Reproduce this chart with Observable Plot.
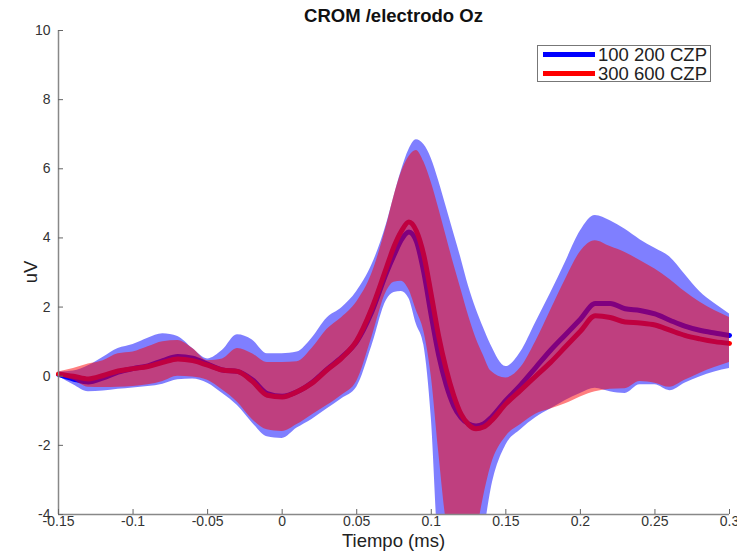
<!DOCTYPE html>
<html><head><meta charset="utf-8">
<script src="https://cdn.jsdelivr.net/npm/d3@7"></script>
<script src="https://cdn.jsdelivr.net/npm/@observablehq/plot@0.6"></script>
<style>
body{margin:0;background:#fff;font-family:"Liberation Sans",Arial,sans-serif}
#wrap{position:relative;width:737px;height:552px;overflow:hidden}
.abs{position:absolute;white-space:nowrap}
#title{left:58px;width:671px;top:6px;text-align:center;font-weight:bold;font-size:18.5px;line-height:20px;color:#111}
#xlabel{left:58px;width:671px;top:531px;text-align:center;font-size:18.5px;line-height:19px;color:#222}
#ylabel{left:31px;top:272px;font-size:18.5px;color:#222;transform:translate(-50%,-50%) rotate(-90deg)}
#legend{left:537px;top:45px;width:172px;height:35px;border:1px solid #777;background:#fff}
.lg{position:absolute;left:5px;width:52px;height:5px}
.lt{position:absolute;left:60px;font-size:18.5px;line-height:18px;color:#222}
</style></head><body>
<div id="wrap">
<div id="chart"></div>
<div id="title" class="abs">CROM /electrodo Oz</div>
<div id="xlabel" class="abs">Tiempo (ms)</div>
<div id="ylabel" class="abs">uV</div>
<div id="legend" class="abs">
  <div class="lg" style="top:6px;background:#0000ff"></div><div class="lt" style="top:0px">100 200 CZP</div>
  <div class="lg" style="top:25px;background:#ff0000"></div><div class="lt" style="top:19px">300 600 CZP</div>
</div>
</div>
<script>
const seriesNames = ["100 200 CZP", "300 600 CZP"];
const xTicks = [-0.15,-0.1,-0.05,0,0.05,0.1,0.15,0.2,0.25,0.3];
const yTicks = [-4,-2,0,2,4,6,8,10];
const time = [-0.15,-0.14,-0.13,-0.12,-0.11,-0.10,-0.09,-0.08,-0.07,-0.06,-0.05,-0.04,-0.03,-0.02,-0.01,0,0.01,0.02,0.03,0.04,0.05,0.06,0.07,0.075,0.08,0.085,0.09,0.095,0.10,0.105,0.11,0.115,0.12,0.125,0.13,0.135,0.14,0.15,0.16,0.17,0.18,0.19,0.20,0.21,0.22,0.23,0.24,0.25,0.26,0.27,0.28,0.29,0.30];
// series 1: 100 200 CZP (blue)
const mean1 = [0.05,-0.08,-0.17,-0.05,0.12,0.22,0.3,0.45,0.57,0.52,0.35,0.18,0.14,-0.1,-0.5,-0.58,-0.45,-0.18,0.2,0.55,1.0,1.85,3.0,3.5,3.95,4.17,3.9,3.0,1.75,0.6,-0.25,-0.85,-1.2,-1.38,-1.44,-1.38,-1.2,-0.7,-0.25,0.25,0.75,1.2,1.65,2.1,2.1,1.95,1.9,1.8,1.62,1.45,1.33,1.25,1.18];
const upper1 = [0.12,0.15,0.3,0.55,0.8,0.92,1.1,1.23,1.15,0.8,0.5,0.75,1.2,1.05,0.65,0.65,0.7,1.1,1.68,1.98,2.45,3.2,4.4,5.2,5.95,6.55,6.84,6.7,6.3,5.65,4.9,4.15,3.4,2.6,1.95,1.4,0.9,0.28,0.7,1.55,2.4,3.3,4.2,4.65,4.5,4.25,3.95,3.7,3.45,2.95,2.45,2.1,1.8];
const lower1 = [0.0,-0.25,-0.45,-0.43,-0.38,-0.34,-0.3,-0.23,-0.1,-0.08,-0.2,-0.5,-0.85,-1.35,-1.75,-1.8,-1.5,-1.25,-0.95,-0.65,-0.32,0.85,2.2,2.42,2.45,2.25,1.5,0.9,-1.2,-5.0,-5.8,-6.3,-6.5,-6.3,-5.6,-4.6,-3.3,-2.0,-1.55,-1.2,-0.95,-0.7,-0.5,-0.35,-0.45,-0.5,-0.25,-0.25,-0.42,-0.2,-0.02,0.12,0.22];
// series 2: 300 600 CZP (red)
const mean2 = [0.06,0.0,-0.08,0.02,0.15,0.22,0.28,0.4,0.5,0.45,0.32,0.18,0.14,-0.15,-0.55,-0.6,-0.45,-0.2,0.18,0.53,1.03,1.95,3.15,3.75,4.2,4.46,4.2,3.5,2.35,1.15,0.2,-0.55,-1.1,-1.4,-1.52,-1.47,-1.3,-0.8,-0.4,0.0,0.4,0.85,1.3,1.75,1.7,1.57,1.54,1.48,1.33,1.18,1.08,1.0,0.95];
const upper2 = [0.12,0.22,0.35,0.45,0.65,0.7,0.85,1.0,1.03,0.8,0.45,0.5,0.8,0.65,0.4,0.4,0.42,0.8,1.35,1.7,2.15,2.95,4.35,5.2,5.9,6.35,6.53,6.2,5.6,4.85,4.05,3.25,2.5,1.75,1.1,0.6,0.15,-0.05,0.25,1.0,1.9,2.8,3.6,3.92,3.75,3.58,3.35,3.1,2.8,2.45,2.15,1.9,1.7];
const lower2 = [0.0,-0.12,-0.32,-0.33,-0.32,-0.3,-0.25,-0.15,0.0,-0.02,-0.12,-0.4,-0.75,-1.25,-1.55,-1.6,-1.4,-1.12,-0.85,-0.55,-0.15,1.1,2.45,2.72,2.75,2.5,1.9,1.3,0.0,-2.2,-4.2,-5.2,-5.5,-5.3,-4.6,-3.5,-2.6,-1.75,-1.4,-1.1,-0.95,-0.8,-0.6,-0.45,-0.38,-0.36,-0.15,-0.2,-0.32,-0.12,0.08,0.25,0.4];

const data = time.map((t,i)=>({t, m1:mean1[i], hi1:upper1[i], lo1:lower1[i], m2:mean2[i], hi2:upper2[i], lo2:lower2[i]}));
const curve = "monotone-x";
const fmt = d => String(Math.round(d*100)/100);
const chart = Plot.plot({
  width:737, height:552,
  marginTop:30, marginBottom:38, marginLeft:58, marginRight:8,
  style:{fontFamily:"'Liberation Sans', Arial, sans-serif", fontSize:"14px", color:"#333", background:"transparent"},
  x:{domain:[-0.15,0.3]},
  y:{domain:[-4,10]},
  marks:[
    Plot.line(data,{x:"t",y:"m1",stroke:"#0000ff",strokeWidth:5,curve}),
    Plot.line(data,{x:"t",y:"m2",stroke:"#ff0000",strokeWidth:5,curve}),
    Plot.areaY(data,{x:"t",y1:"lo1",y2:"hi1",fill:"#0000ff",fillOpacity:0.5,curve,clip:true}),
    Plot.areaY(data,{x:"t",y1:"lo2",y2:"hi2",fill:"#ff0000",fillOpacity:0.5,curve,clip:true}),
    Plot.ruleX([-0.15],{stroke:"#888",strokeWidth:1.5}),
    Plot.ruleY([-4],{stroke:"#888",strokeWidth:1.5}),
    Plot.axisX({ticks:xTicks, tickFormat:fmt, tickSize:-5, tickPadding:7, stroke:"#666", fill:"#333", label:null}),
    Plot.axisY({ticks:yTicks, tickFormat:fmt, tickSize:-5, tickPadding:13, stroke:"#666", fill:"#333", label:null})
  ]
});
document.getElementById("chart").appendChild(chart);
</script>
</body></html>
